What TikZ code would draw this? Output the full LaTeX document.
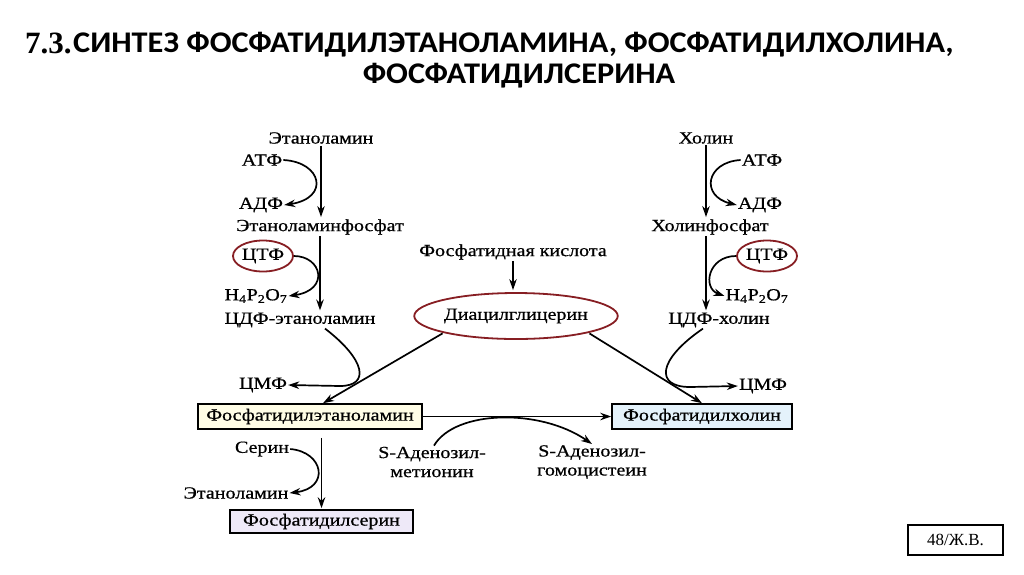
\documentclass[tikz,border=0pt]{standalone}
\usepackage{fontspec}
\setmainfont{Liberation Serif}
\newfontfamily\dfont[FakeStretch=1.18,FakeBold=0.7]{Liberation Serif}
\newfontfamily\numfont{Liberation Serif}
\newfontfamily\tfont[FakeStretch=1.077]{Carlito}
\usetikzlibrary{arrows.meta,shapes.geometric}
\definecolor{ellred}{RGB}{135,30,35}
\definecolor{peFill}{RGB}{255,253,230}
\definecolor{pcFill}{RGB}{228,242,251}
\definecolor{psFill}{RGB}{238,233,248}
\begin{document}
\begin{tikzpicture}[x=1pt,y=-1pt,
  lbl/.style={font=\dfont\fontsize{17}{19}\selectfont, inner sep=1pt, align=center},
  arr/.style={line width=1.7pt, -{Stealth[length=11pt,width=7.5pt]}},
  redell/.style={ellipse, draw=ellred, line width=1.8pt, inner sep=0pt},
  prodbox/.style={lbl, draw, line width=1.6pt, minimum height=25pt, inner sep=0pt},
  ttl/.style={font=\tfont\bfseries\fontsize{30}{31}\selectfont, inner sep=0pt, text height=21pt, text depth=4pt}
]
\useasboundingbox[fill=white] (0,0) rectangle (1024,574);

% title
\node[font=\numfont\bfseries\fontsize{31}{32}\selectfont, inner sep=0pt, anchor=base west, text height=21pt, text depth=1pt] (tnum) at (25,53) {7.3.};
\node[ttl, anchor=base west] (t1) at (73,52.5) {СИНТЕЗ ФОСФАТИДИЛЭТАНОЛАМИНА, ФОСФАТИДИЛХОЛИНА,};
\node[ttl, anchor=base] (t2) at (519,83) {ФОСФАТИДИЛСЕРИНА};

% left branch
\node[lbl] (eta1) at (321,138) {Этаноламин};
\node[lbl] (atf1) at (262,160) {АТФ};
\node[lbl] (adf1) at (261,205) {АДФ};
\node[lbl] (etap) at (320,227) {Этаноламинфосфат};
\node[lbl, redell, minimum width=60pt, minimum height=31pt] (ctf1) at (263,256) {ЦТФ};
\node[lbl] (pp1) at (256,296) {H\textsubscript{4}P\textsubscript{2}O\textsubscript{7}};
\node[lbl] (cdpe) at (300,320) {ЦДФ-этаноламин};

% right branch
\node[lbl] (hol) at (706,138) {Холин};
\node[lbl] (atf2) at (762,160) {АТФ};
\node[lbl] (adf2) at (760,205) {АДФ};
\node[lbl] (holp) at (710,227) {Холинфосфат};
\node[lbl, redell, minimum width=60pt, minimum height=31pt] (ctf2) at (767,256) {ЦТФ};
\node[lbl] (pp2) at (757,296) {H\textsubscript{4}P\textsubscript{2}O\textsubscript{7}};
\node[lbl] (cdpc) at (719,320) {ЦДФ-холин};

% middle
\node[lbl] (pa) at (513,252) {Фосфатидная кислота};
\node[lbl, redell, minimum width=176pt, minimum height=46pt] (dag) at (516,316) {Диацилглицерин};

\node[lbl] (cmp1) at (263,385) {ЦМФ};
\node[lbl] (cmp2) at (763,386) {ЦМФ};

\node[prodbox, fill=peFill, minimum width=224pt] (pe) at (310,416.5) {Фосфатидилэтаноламин};
\node[prodbox, fill=pcFill, minimum width=180pt] (pc) at (702,416.5) {Фосфатидилхолин};
\node[prodbox, fill=psFill, minimum width=183pt, minimum height=23pt] (ps) at (321.5,521.5) {Фосфатидилсерин};

\node[lbl] (sam) at (432,462) {S-Аденозил-\\метионин};
\node[lbl] (sah) at (592,462) {S-Аденозил-\\гомоцистеин};
\node[lbl] (ser) at (262,449) {Серин};
\node[lbl] (eta2) at (236,493) {Этаноламин};

\node[draw, line width=1.2pt, minimum width=95pt, minimum height=30pt, font=\fontsize{17}{19}\selectfont] (pg) at (955.5,540) {48/Ж.В.};

% left arrows
\draw[arr, shorten <=1pt, shorten >=1pt] (eta1.south) -- (eta1.south |- etap.north);
\draw[arr] (atf1.east) .. controls (322,162) and (330,198) .. (adf1.east);
\draw[arr, shorten >=1pt] (etap.south) -- (etap.south |- cdpe.north);
\draw[arr] (ctf1.east) .. controls (322,256) and (330,290) .. (pp1.east);

% right arrows
\draw[arr, shorten >=1pt] (hol.south) -- (hol.south |- holp.north);
\draw[arr] (atf2.west) .. controls (706,162) and (700,196) .. (adf2.west);
\draw[arr, shorten >=1pt] (holp.south -| hol.south) -- (hol.south |- cdpc.north);
\draw[arr] (ctf2.west) .. controls (708,256) and (702,288) .. (pp2.west);

% middle
\draw[arr, shorten >=2pt] (pa.south) -- (pa.south |- dag.north);
\draw[arr, shorten <=1pt] (dag.south west) -- ([xshift=13pt]pe.north);
\draw[arr, shorten <=1pt] (dag.south east) -- (pc.north);

\draw[arr] ([xshift=25pt]cdpe.south) .. controls (366,360) and (370,386) .. (340,386) -- (cmp1.east);
\draw[arr] ([xshift=-16pt]cdpc.south) .. controls (657,360) and (655,387) .. (690,387) -- (cmp2.west);

\draw[arr] (pe.east) -- (pc.west);
\draw[arr] ([xshift=2pt]sam.north) .. controls (455,410) and (540,408) .. (sah.north);

\draw[arr, shorten <=8pt, shorten >=1pt] (ps.north |- pe.south) -- (ps.north);
\draw[arr] (ser.east) .. controls (324,452) and (330,488) .. (eta2.east);
\end{tikzpicture}
\end{document}
